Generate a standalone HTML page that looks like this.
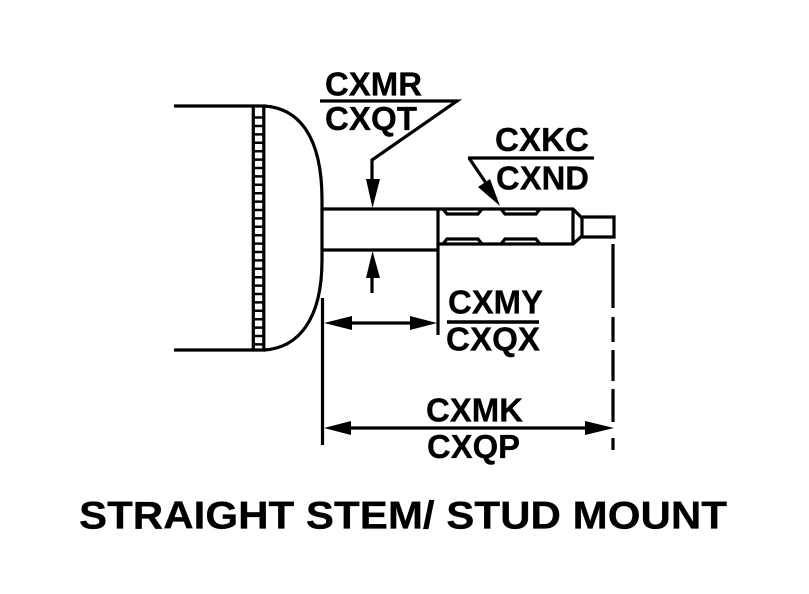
<!DOCTYPE html>
<html><head><meta charset="utf-8"><style>
html,body{margin:0;padding:0;background:#fff;width:809px;height:594px;overflow:hidden}
svg{display:block}
text{font-family:"Liberation Sans",Arial,sans-serif;font-weight:bold;fill:#000;stroke:#000;stroke-width:.3}
</style></head><body>
<svg width="809" height="594" viewBox="0 0 809 594" xmlns="http://www.w3.org/2000/svg">
<rect width="809" height="594" fill="#fff"/>
<g fill="none" stroke="#000" stroke-width="3.200">
<path d="M174 106H266M174 350H266"/>
<path d="M253.300 106V350M263.800 106V350" />
<path d="M264 106C298 108 322 135 322 200V260C322 320 298 348 264 350"/>
<path d="M253 117.500H264M253 126H264M253 134.400H264M253 142.800H264M253 151.200H264M253 159.600H264M253 168H264M253 176.400H264M253 184.800H264M253 193.200H264M253 201.600H264M253 210H264M253 218.400H264M253 226.800H264M253 235.200H264M253 243.600H264M253 252H264M253 260.400H264M253 268.800H264M253 277.200H264M253 285.600H264M253 294H264M253 302.400H264M253 310.800H264M253 319.200H264M253 327.600H264M253 336H264M253 344.400H264" stroke-width="2.500"/>
<path d="M322 209H573L582 218V236L573 244H438"/>
<path d="M322 250H438"/>
<path d="M438 209V335"/>
<path d="M573 209V244"/>
<path d="M582 217H614V237H582"/>
<path d="M443 209L447 214H478L482 209M501 209L505 214H536L540 209"/>
<path d="M443 244L447 239H478L482 244M501 244L505 239H536L540 244"/>
<path d="M322.500 298V445"/>
<path d="M613 244V308M613 317V342M613 350V381M613 389V422M613 438V450"/>
<path d="M320 101H457L372 160V182"/>
<path d="M468 158H594M469 158L488 186"/>
<path d="M372 293V266"/>
<path d="M345 323H415"/>
<path d="M345 428H590"/>
<path d="M447 322H539" stroke-width="3.500"/>
</g>
<g fill="#000">
<path d="M366 179H380L372.500 208Z"/>
<path d="M366 278H380L372.500 251Z"/>
<path d="M478 187L490 179L500 206Z"/>
<path d="M324 323L352 316V330Z"/>
<path d="M437 323L410 316V330Z"/>
<path d="M324 428L351 421V435Z"/>
<path d="M614 428L585 421V435Z"/>
</g>
<text x="325" y="95.500" font-size="33" textLength="97" lengthAdjust="spacingAndGlyphs">CXMR</text>
<text x="325" y="130" font-size="33" textLength="92" lengthAdjust="spacingAndGlyphs">CXQT</text>
<text x="495" y="151" font-size="33" textLength="94" lengthAdjust="spacingAndGlyphs">CXKC</text>
<text x="496" y="189.500" font-size="33" textLength="93" lengthAdjust="spacingAndGlyphs">CXND</text>
<text x="448" y="313.500" font-size="33" textLength="95" lengthAdjust="spacingAndGlyphs">CXMY</text>
<text x="446" y="350.500" font-size="33" textLength="94" lengthAdjust="spacingAndGlyphs">CXQX</text>
<text x="426" y="421.500" font-size="33" textLength="97" lengthAdjust="spacingAndGlyphs">CXMK</text>
<text x="427" y="458" font-size="33" textLength="93" lengthAdjust="spacingAndGlyphs">CXQP</text>
<text x="79" y="528.500" font-size="39" textLength="648" lengthAdjust="spacingAndGlyphs">STRAIGHT STEM/ STUD MOUNT</text>
</svg>
</body></html>
